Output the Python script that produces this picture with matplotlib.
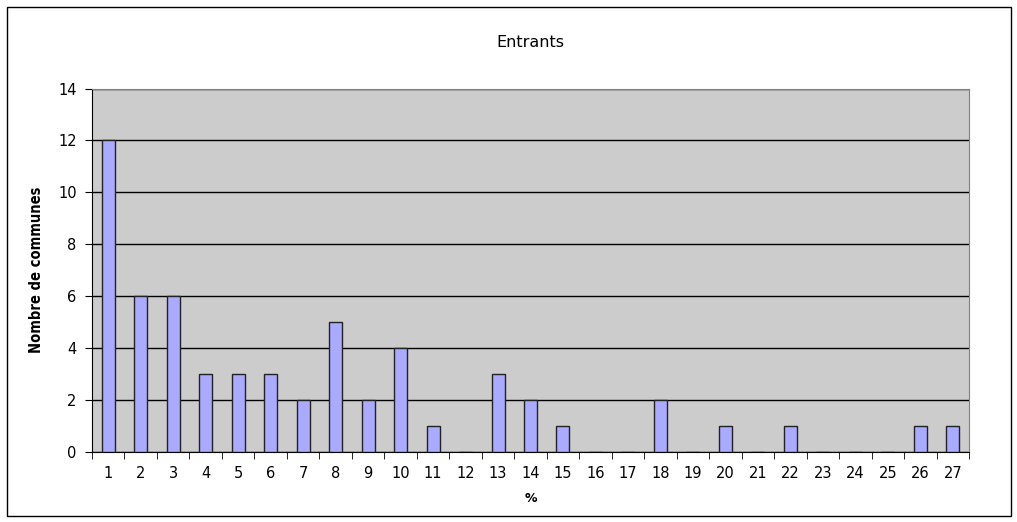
import matplotlib.pyplot as plt
from matplotlib.patches import Rectangle

categories = [str(i) for i in range(1, 28)]
counts = [12, 6, 6, 3, 3, 3, 2, 5, 2, 4, 1, 0, 3, 2, 1, 0, 0, 2, 0, 1, 0, 1, 0, 0, 0, 1, 1]
y_ticks = [0, 2, 4, 6, 8, 10, 12, 14]

fig = plt.figure(figsize=(10.17, 5.22), dpi=100)
ax = fig.add_axes([92 / 1017, 1 - 452 / 522, (969 - 92) / 1017, (452 - 88.5) / 522])

# outer frame
fig.patches.append(Rectangle((6.5 / 1017, 1 - 515.5 / 522), 1004.5 / 1017, 509 / 522,
                             transform=fig.transFigure, fill=False, edgecolor='black', lw=1))

x = range(len(categories))
ax.set_facecolor('#CCCCCC')
ax.bar(x, counts, width=0.4, color='#AAAAFF', edgecolor='#222222', linewidth=1, zorder=3)

ax.set_xlim(-0.5, len(categories) - 0.5)
ax.set_ylim(0, 14)
ax.set_yticks(y_ticks)
ax.yaxis.grid(True, color='black', lw=1, zorder=1)
ax.set_axisbelow(True)

ax.set_xticks(list(x))
ax.set_xticklabels(categories)
ax.set_xticks([i - 0.5 for i in range(len(categories) + 1)], minor=True)
ax.tick_params(axis='x', which='major', length=0, pad=10, labelsize=10.5)
ax.tick_params(axis='x', which='minor', length=5, direction='out', color='black')
ax.tick_params(axis='y', length=5, direction='out', labelsize=10.5, pad=6)

for s in ['top', 'right']:
    ax.spines[s].set_color('#808080')
for s in ['left', 'bottom']:
    ax.spines[s].set_color('black')

ax.set_title('Entrants', fontsize=11.5, pad=30)
ax.set_xlabel('%', fontsize=9, fontweight='bold', labelpad=8)
ax.set_ylabel('Nombre de communes', fontsize=10.5, fontweight='bold',
              family='DejaVu Sans', fontstretch='condensed', labelpad=10)

fig.savefig('out.png', dpi=100)
